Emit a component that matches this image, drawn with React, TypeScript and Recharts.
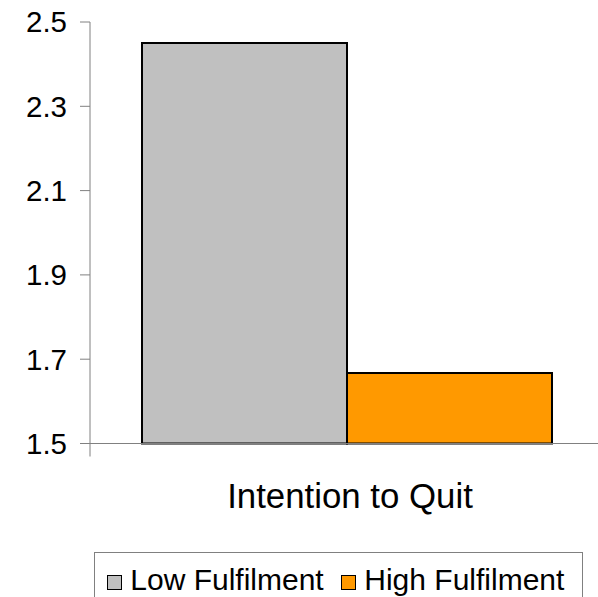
import React from "react";
import { BarChart, Bar, XAxis, YAxis } from "recharts";

// Mean "Intention to Quit" score by fulfilment group
const categories: string[] = ["Intention to Quit"];
const lowFulfilment: number[] = [2.45];
const highFulfilment: number[] = [1.667];
const yTicks: number[] = [1.5, 1.7, 1.9, 2.1, 2.3, 2.5];

const seriesNames = ["Low Fulfilment", "High Fulfilment"];
const seriesColors = ["#C0C0C0", "#FF9900"];
const seriesKeys = ["low", "high"];

const data = categories.map((c, i) => ({
  category: c,
  low: lowFulfilment[i],
  high: highFulfilment[i],
}));

const FONT = '"Liberation Sans", Arial, Helvetica, sans-serif';
const AXIS_GREY = "#808080";

// Category label plus the boundary tick at the left edge of the category band
const CategoryTick = (props: any) => {
  const { x, y, payload } = props;
  const half = payload && typeof payload.offset === "number" ? payload.offset : 0;
  return (
    <g>
      <line x1={x - half} y1={y} x2={x - half} y2={y + 13} stroke={AXIS_GREY} strokeWidth={1} />
      <text
        x={x}
        y={y + 64.4}
        dx={3}
        textAnchor="middle"
        fontFamily={FONT}
        fontSize={34.8}
        fill="#000"
      >
        {payload.value}
      </text>
    </g>
  );
};

const LegendBox = () => (
  <div
    style={{
      position: "absolute",
      left: 94,
      top: 552,
      width: 487,
      height: 60,
      border: `1px solid ${AXIS_GREY}`,
      background: "#fff",
      boxSizing: "content-box",
    }}
  >
    <div
      style={{
        display: "flex",
        alignItems: "center",
        paddingLeft: 11.7,
        height: 53,
        fontFamily: FONT,
        fontSize: 30,
        color: "#000",
        whiteSpace: "nowrap",
      }}
    >
      {seriesNames.map((name, i) => (
        <div key={name} style={{ display: "flex", alignItems: "center", marginRight: i === 0 ? 17 : 0 }}>
          <div
            style={{
              width: 13.6,
              height: 13,
              background: seriesColors[i],
              border: "1.7px solid #000",
              marginRight: 8,
              marginTop: 5,
            }}
          />
          <span>{name}</span>
        </div>
      ))}
    </div>
  </div>
);

export default function App() {
  return (
    <div
      style={{
        position: "absolute",
        left: 0,
        top: 0,
        width: 598,
        height: 597,
        overflow: "hidden",
        background: "#fff",
      }}
    >
      <BarChart
        width={610}
        height={597}
        data={data}
        margin={{ top: 22, right: 6, bottom: 73.5, left: 0 }}
        barGap={0}
        barSize={205}
      >
        <XAxis
          dataKey="category"
          height={80}
          axisLine={{ stroke: AXIS_GREY, strokeWidth: 1 }}
          tickLine={false}
          tickSize={0}
          tickMargin={0}
          tick={<CategoryTick />}
          interval={0}
        />
        <YAxis
          type="number"
          domain={[1.5, 2.5]}
          ticks={yTicks}
          width={90}
          axisLine={{ stroke: AXIS_GREY, strokeWidth: 1 }}
          tickLine={{ stroke: AXIS_GREY, strokeWidth: 1 }}
          tickSize={10}
          tickMargin={13}
          tick={{ fontFamily: FONT, fontSize: 29.5, fill: "#000" }}
          tickFormatter={(v: number) => v.toFixed(1)}
          interval={0}
        />
        {seriesKeys.map((k, i) => (
          <Bar
            key={k}
            dataKey={k}
            name={seriesNames[i]}
            fill={seriesColors[i]}
            stroke="#000"
            strokeWidth={2}
            isAnimationActive={false}
          />
        ))}
      </BarChart>
      <LegendBox />
    </div>
  );
}
